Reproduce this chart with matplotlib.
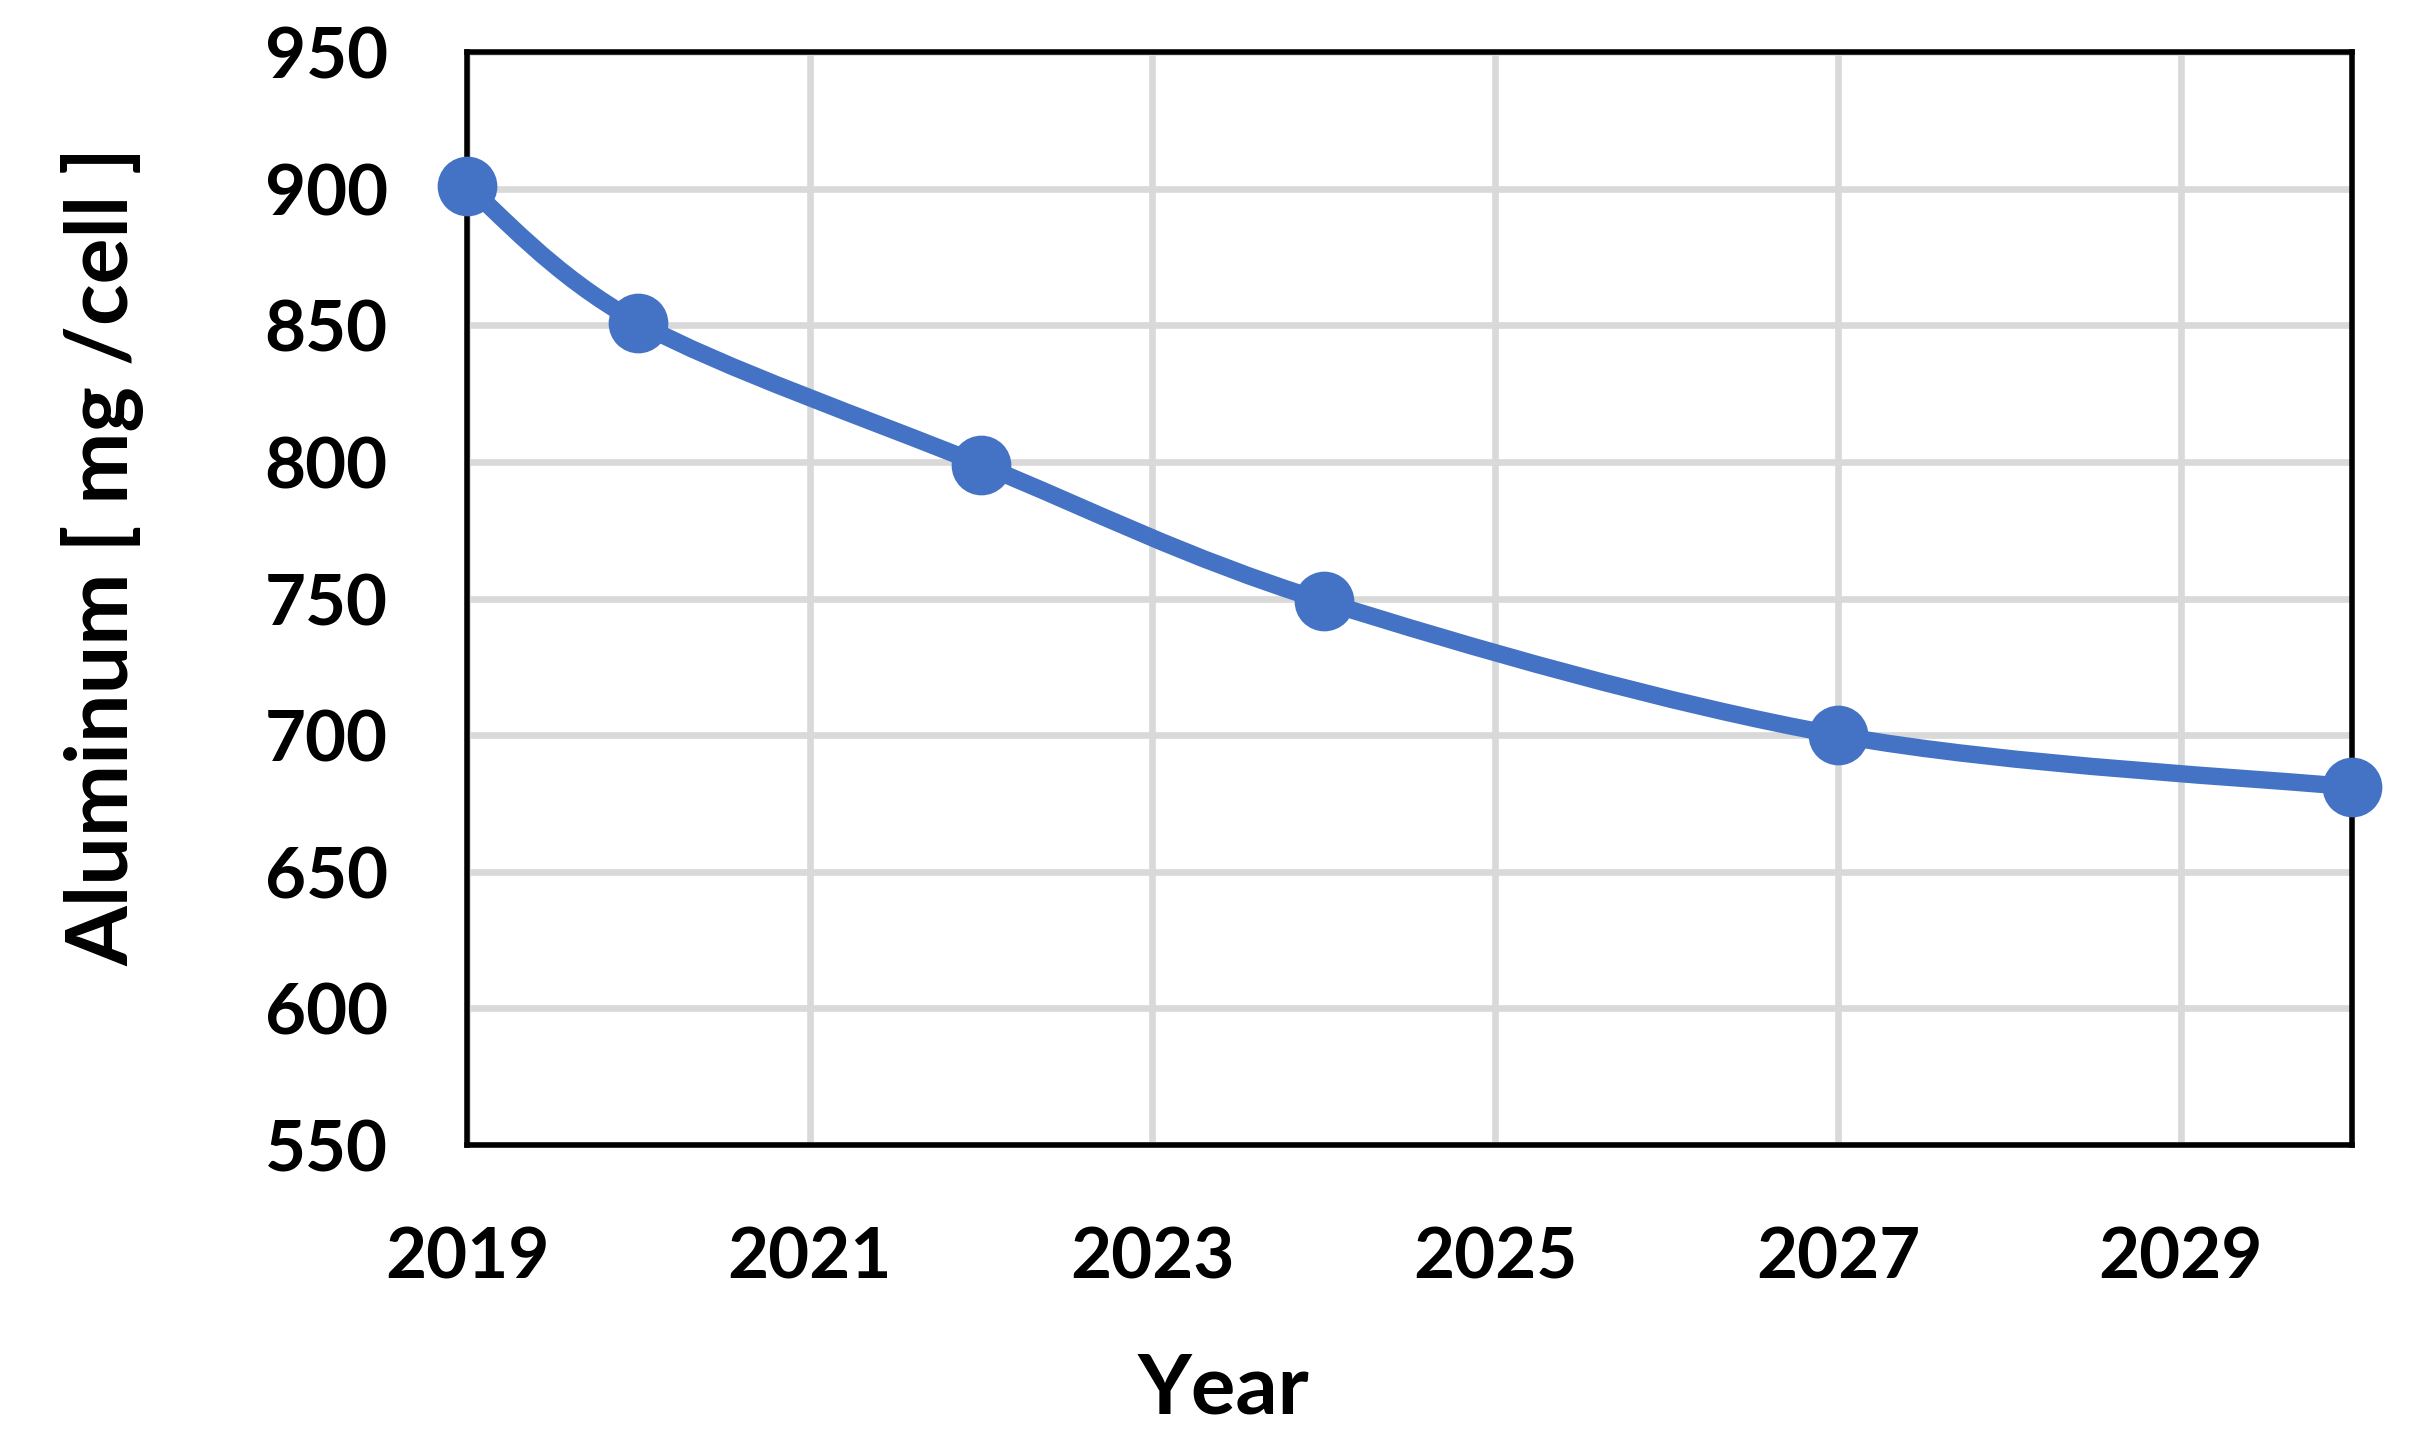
import numpy as np
import matplotlib
matplotlib.use("Agg")
import matplotlib.pyplot as plt
from matplotlib.path import Path
from matplotlib.patches import PathPatch

# ---- data ----
years = [2019, 2020, 2022, 2024, 2027, 2030]
aluminum = [901, 851, 799, 749, 700, 681]
x_ticks = [2019, 2021, 2023, 2025, 2027, 2029]
y_ticks = [550, 600, 650, 700, 750, 800, 850, 900, 950]
x_label = "Year"
y_label = "Aluminum [ mg /cell ]"

BLUE = "#4472C4"
GRID = "#D9D9D9"
FONT = ["Lato", "DejaVu Sans"]

plt.rcParams["font.family"] = FONT
plt.rcParams["font.weight"] = "bold"

fig = plt.figure(figsize=(24.10, 14.44), dpi=100)
ax = fig.add_axes([467 / 2410, 1 - 1145 / 1444, (2352 - 467) / 2410, (1145 - 52) / 1444])

# Excel-style smoothed line (Catmull-Rom Bezier segments)
xs = np.array(years, dtype=float)
ys = np.array(aluminum, dtype=float)
pts = np.column_stack([xs, ys])
n = len(pts)
verts = [pts[0]]
codes = [Path.MOVETO]
for i in range(n - 1):
    p0 = pts[i - 1] if i > 0 else pts[i]
    p1 = pts[i]
    p2 = pts[i + 1]
    p3 = pts[i + 2] if i + 2 < n else pts[i + 1]
    c1 = p1 + (p2 - p0) / 6.0
    c2 = p2 - (p3 - p1) / 6.0
    verts += [c1, c2, p2]
    codes += [Path.CURVE4] * 3
path = Path(verts, codes)
ax.add_patch(PathPatch(path, facecolor="none", edgecolor=BLUE, lw=12.5,
                       capstyle="round", joinstyle="round", zorder=3, clip_on=False))
ax.plot(years, aluminum, linestyle="none", marker="o", markersize=43,
        markerfacecolor=BLUE, markeredgecolor=BLUE, markeredgewidth=0,
        zorder=4, clip_on=False)

ax.set_xlim(2019, 2030)
ax.set_ylim(550, 950)
ax.set_xticks(x_ticks)
ax.set_yticks(y_ticks)
ax.set_xticklabels([str(v) for v in x_ticks])
ax.set_yticklabels([str(v) for v in y_ticks])
ax.tick_params(axis="both", length=0, labelsize=51)
ax.tick_params(axis="x", pad=58)
ax.tick_params(axis="y", pad=57)
for lab in ax.get_xticklabels() + ax.get_yticklabels():
    lab.set_fontweight("bold")

ax.grid(True, color=GRID, linewidth=4.8, zorder=0)
ax.set_axisbelow(True)
for s in ax.spines.values():
    s.set_color("black")
    s.set_linewidth(4.0)
    s.set_zorder(2.5)

fig.text(1223 / 2410, 1 - 1414 / 1444, x_label, ha="center", va="baseline",
         fontsize=60, fontweight="bold")
fig.text(103 / 2410, 1 - 556 / 1444, y_label, ha="center", va="center",
         rotation=90, fontsize=62, fontweight="bold")

fig.savefig("out.png", dpi=100, facecolor="white")
